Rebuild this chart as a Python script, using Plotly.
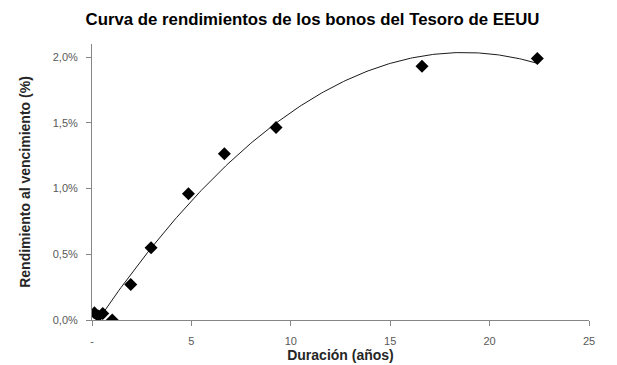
import numpy as np
import plotly.graph_objects as go

# Data
duracion = [0.12, 0.32, 0.54, 1.02, 1.95, 2.97, 4.85, 6.66, 9.26, 16.6, 22.4]
rendimiento = [0.00055, 0.0003, 0.0005, 0.0, 0.0027, 0.0055, 0.0096, 0.01265, 0.01465, 0.0193, 0.0199]
x_tick_vals = [0, 5, 10, 15, 20, 25]
x_tick_text = ["-", "5", "10", "15", "20", "25"]
y_tick_vals = [0, 0.005, 0.01, 0.015, 0.02]

# Polynomial (order 2) trendline, as in the original spreadsheet chart
coef = np.polyfit(duracion, rendimiento, 2)
xs = np.linspace(min(duracion), max(duracion), 200)
ys = np.polyval(coef, xs)

fig = go.Figure()
fig.add_trace(go.Scatter(x=xs, y=ys, mode="lines",
                         line=dict(color="#1a1a1a", width=1), hoverinfo="skip",
                         showlegend=False))
fig.add_trace(go.Scatter(x=duracion, y=rendimiento, mode="markers",
                         marker=dict(symbol="diamond", size=10, color="black"),
                         showlegend=False))

font = "Liberation Sans, Arial, sans-serif"
fig.update_layout(
    width=609, height=357,
    margin=dict(l=84, r=28, t=36, b=45),
    paper_bgcolor="white", plot_bgcolor="white",
    separators=",.",
    font=dict(family=font, color="#595959", size=11),
    title=dict(text="<b>Curva de rendimientos de los bonos del Tesoro de EEUU</b>",
               x=0.5, xanchor="center", y=0.985, yanchor="top", pad=dict(t=0),
               font=dict(family=font, size=16.8, color="black")),
    xaxis=dict(range=[0, 25], tickvals=x_tick_vals, ticktext=x_tick_text,
               automargin=False,
               showgrid=False, zeroline=False, showline=True, linecolor="#868686",
               linewidth=1, ticks="outside", ticklen=5, tickcolor="#868686",
               ticklabelstandoff=6,
               title=dict(text="<b>Duración (años)</b>", standoff=2,
                          font=dict(family=font, size=14, color="#262626"))),
    yaxis=dict(range=[0, 0.021], tickvals=y_tick_vals, tickformat=".1%",
               automargin=False,
               showgrid=False, zeroline=False, showline=True, linecolor="#868686",
               linewidth=1, ticks="outside", ticklen=5, tickcolor="#868686",
               ticklabelstandoff=6,
               title=dict(text="<b>Rendimiento al vencimiento (%)</b>", standoff=18,
                          font=dict(family=font, size=14, color="#262626"))),
)

fig.write_html("out.html")
